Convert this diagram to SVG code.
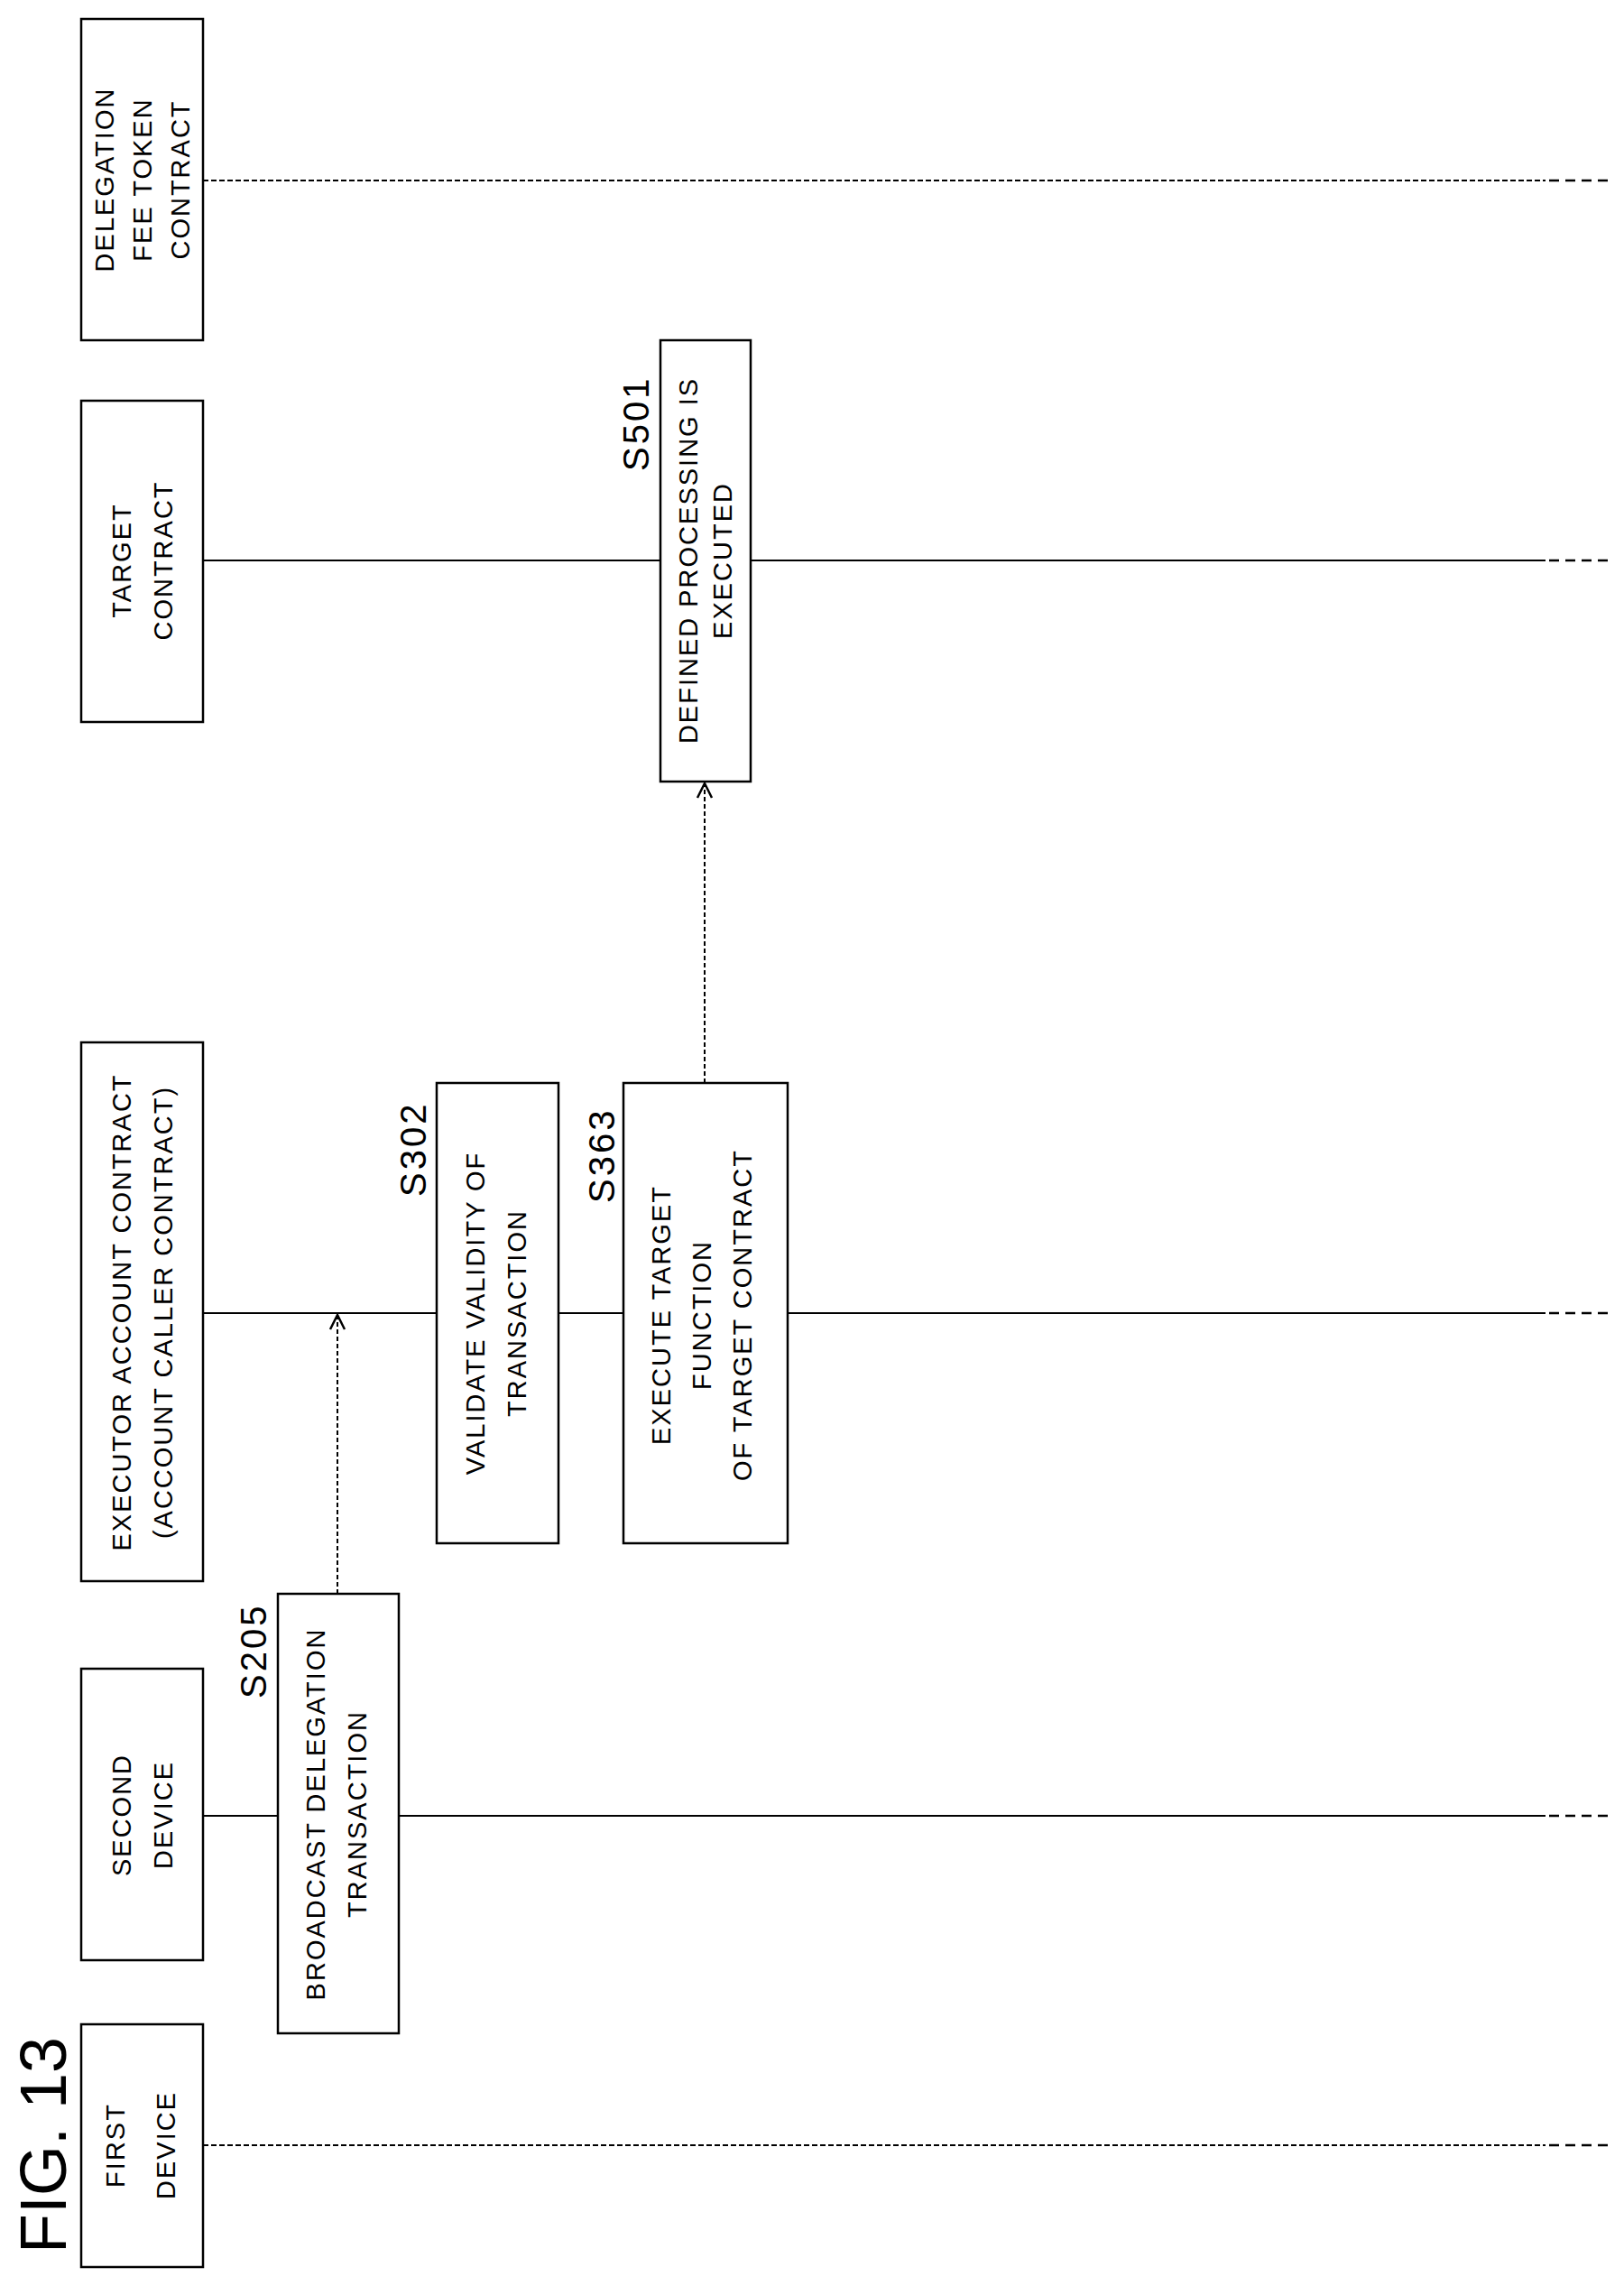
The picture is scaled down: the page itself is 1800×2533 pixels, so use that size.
<svg xmlns="http://www.w3.org/2000/svg" width="1800" height="2533" viewBox="0 0 1800 2533">
<style>
text{font-family:"Liberation Sans",Arial,sans-serif;fill:#000}
.lbl{font-size:29px;text-anchor:middle;dominant-baseline:central;letter-spacing:2px}
.step{font-size:40px;dominant-baseline:central;letter-spacing:3px}
.box{fill:#fff;stroke:#000;stroke-width:2.5}
.life{stroke:#000;stroke-width:2;fill:none}
.dot{stroke-dasharray:6 3}
.tail{stroke:#000;stroke-width:2.5;stroke-dasharray:11 7;fill:none}
.arr{stroke:#000;stroke-width:2;stroke-dasharray:5 3;fill:none;marker-end:url(#ah)}
</style>
<defs>
<marker id="ah" viewBox="0 0 20 20" refX="18" refY="10" markerWidth="20" markerHeight="20" markerUnits="userSpaceOnUse" orient="auto">
<path d="M2,2 L18,10 L2,18" fill="none" stroke="#000" stroke-width="2.5"/>
</marker>
</defs>
<text x="0" y="0" transform="translate(48,2497) rotate(-90)" style="font-size:72px;dominant-baseline:central">FIG. 13</text>
<g id="connectors">
<line class="life dot" x1="225" y1="200" x2="1713" y2="200"/>
<line class="tail" x1="1717" y1="200" x2="1782" y2="200"/>
<line class="life" x1="225" y1="621" x2="1713" y2="621"/>
<line class="tail" x1="1717" y1="621" x2="1782" y2="621"/>
<line class="life" x1="225" y1="1455" x2="1713" y2="1455"/>
<line class="tail" x1="1717" y1="1455" x2="1782" y2="1455"/>
<line class="life" x1="225" y1="2012" x2="1713" y2="2012"/>
<line class="tail" x1="1717" y1="2012" x2="1782" y2="2012"/>
<line class="life dot" x1="225" y1="2377" x2="1713" y2="2377"/>
<line class="tail" x1="1717" y1="2377" x2="1782" y2="2377"/>
<line class="arr" x1="374" y1="1766" x2="374" y2="1457"/>
<line class="arr" x1="781" y1="1200" x2="781" y2="868"/>
</g>
<g id="delegation">
<rect class="box" x="90" y="21" width="135" height="356"/>
<g transform="translate(158,199) rotate(-90)">
<text class="lbl" x="0" y="-42">DELEGATION</text>
<text class="lbl" x="0" y="0">FEE TOKEN</text>
<text class="lbl" x="0" y="42">CONTRACT</text>
</g>
</g>
<g id="target">
<rect class="box" x="90" y="444" width="135" height="356"/>
<g transform="translate(158,621) rotate(-90)">
<text class="lbl" x="0" y="-23">TARGET</text>
<text class="lbl" x="0" y="23">CONTRACT</text>
</g>
</g>
<g id="executor">
<rect class="box" x="90" y="1155" width="135" height="597"/>
<g transform="translate(158,1454) rotate(-90)">
<text class="lbl" x="0" y="-23">EXECUTOR ACCOUNT CONTRACT</text>
<text class="lbl" x="0" y="23">(ACCOUNT CALLER CONTRACT)</text>
</g>
</g>
<g id="second">
<rect class="box" x="90" y="1849" width="135" height="323"/>
<g transform="translate(158,2011) rotate(-90)">
<text class="lbl" x="0" y="-23">SECOND</text>
<text class="lbl" x="0" y="23">DEVICE</text>
</g>
</g>
<g id="first">
<rect class="box" x="90" y="2243" width="135" height="269"/>
<g transform="translate(156,2377) rotate(-90)">
<text class="lbl" x="0" y="-28">FIRST</text>
<text class="lbl" x="0" y="28">DEVICE</text>
</g>
</g>
<g id="s205">
<rect class="box" x="308" y="1766" width="134" height="487"/>
<g transform="translate(373,2010) rotate(-90)">
<text class="lbl" x="0" y="-23">BROADCAST DELEGATION</text>
<text class="lbl" x="0" y="23">TRANSACTION</text>
</g>
<text class="step" transform="translate(281,1882) rotate(-90)">S205</text>
</g>
<g id="s302">
<rect class="box" x="484" y="1200" width="135" height="510"/>
<g transform="translate(550,1455) rotate(-90)">
<text class="lbl" x="0" y="-23">VALIDATE VALIDITY OF</text>
<text class="lbl" x="0" y="23">TRANSACTION</text>
</g>
<text class="step" transform="translate(458,1326) rotate(-90)">S302</text>
</g>
<g id="s363">
<rect class="box" x="691" y="1200" width="182" height="510"/>
<g transform="translate(778,1457) rotate(-90)">
<text class="lbl" x="0" y="-45">EXECUTE TARGET</text>
<text class="lbl" x="0" y="0">FUNCTION</text>
<text class="lbl" x="0" y="45">OF TARGET CONTRACT</text>
</g>
<text class="step" transform="translate(667,1333) rotate(-90)">S363</text>
</g>
<g id="s501">
<rect class="box" x="732" y="377" width="100" height="489"/>
<g transform="translate(782,621) rotate(-90)">
<text class="lbl" x="0" y="-19">DEFINED PROCESSING IS</text>
<text class="lbl" x="0" y="19">EXECUTED</text>
</g>
<text class="step" transform="translate(705,522) rotate(-90)">S501</text>
</g>
</svg>
